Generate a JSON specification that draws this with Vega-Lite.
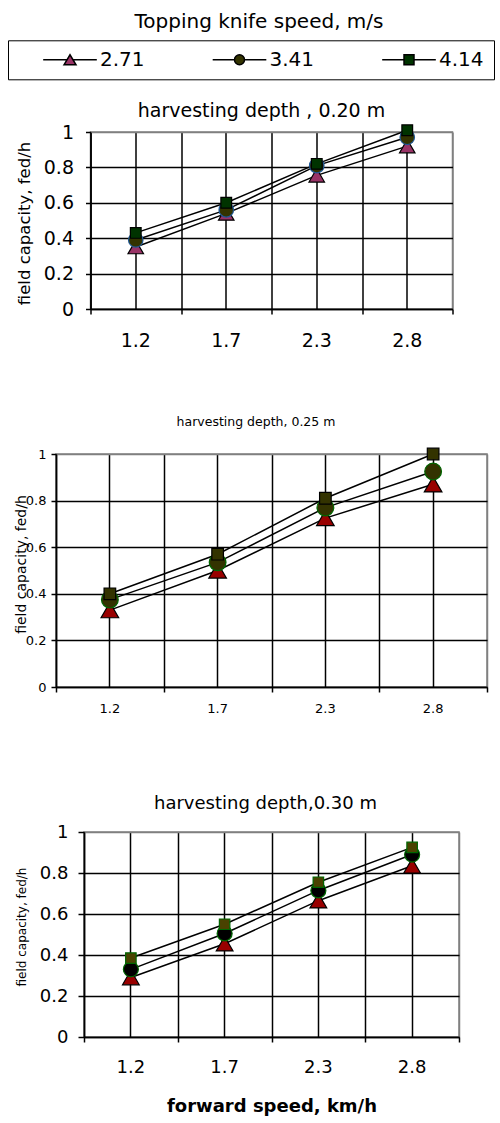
{
  "$schema": "https://vega.github.io/schema/vega-lite/v6.json",
  "padding": {"left": 7, "top": 11, "right": 0, "bottom": 0},
  "config": {
    "font": "DejaVu Sans",
    "view": {"stroke": "#808080", "strokeWidth": 1.5},
    "axis": {"domainColor": "black", "domainWidth": 1.5, "tickColor": "black", "tickWidth": 1.5, "gridColor": "black", "gridWidth": 1.5, "gridOpacity": 1, "labelColor": "black", "titleColor": "black", "labelFont": "DejaVu Sans", "titleFont": "DejaVu Sans", "titleFontWeight": "normal", "labelOverlap": false},
    "title": {"color": "black", "fontWeight": "normal", "font": "DejaVu Sans"},
    "legend": {"labelFont": "DejaVu Sans", "titleFont": "DejaVu Sans"}
  },
  "title": {"text": "Topping knife  speed, m/s", "fontSize": 20, "offset": -7.7, "dx": 8, "anchor": "middle", "baseline": "alphabetic"},
  "datasets": {
    "d20": [
      {"speed": "1.2", "series": "2.71", "fc": 0.35},
      {"speed": "1.2", "series": "3.41", "fc": 0.39},
      {"speed": "1.2", "series": "4.14", "fc": 0.43},
      {"speed": "1.7", "series": "2.71", "fc": 0.54},
      {"speed": "1.7", "series": "3.41", "fc": 0.56},
      {"speed": "1.7", "series": "4.14", "fc": 0.60},
      {"speed": "2.3", "series": "2.71", "fc": 0.755},
      {"speed": "2.3", "series": "3.41", "fc": 0.81},
      {"speed": "2.3", "series": "4.14", "fc": 0.82},
      {"speed": "2.8", "series": "2.71", "fc": 0.92},
      {"speed": "2.8", "series": "3.41", "fc": 0.97},
      {"speed": "2.8", "series": "4.14", "fc": 1.01}
    ],
    "d25": [
      {"speed": "1.2", "series": "2.71", "fc": 0.33},
      {"speed": "1.2", "series": "3.41", "fc": 0.375},
      {"speed": "1.2", "series": "4.14", "fc": 0.40},
      {"speed": "1.7", "series": "2.71", "fc": 0.50},
      {"speed": "1.7", "series": "3.41", "fc": 0.535},
      {"speed": "1.7", "series": "4.14", "fc": 0.57},
      {"speed": "2.3", "series": "2.71", "fc": 0.725},
      {"speed": "2.3", "series": "3.41", "fc": 0.77},
      {"speed": "2.3", "series": "4.14", "fc": 0.81},
      {"speed": "2.8", "series": "2.71", "fc": 0.87},
      {"speed": "2.8", "series": "3.41", "fc": 0.925},
      {"speed": "2.8", "series": "4.14", "fc": 1.0}
    ],
    "d30": [
      {"speed": "1.2", "series": "2.71", "fc": 0.29},
      {"speed": "1.2", "series": "3.41", "fc": 0.33},
      {"speed": "1.2", "series": "4.14", "fc": 0.385},
      {"speed": "1.7", "series": "2.71", "fc": 0.455},
      {"speed": "1.7", "series": "3.41", "fc": 0.505},
      {"speed": "1.7", "series": "4.14", "fc": 0.55},
      {"speed": "2.3", "series": "2.71", "fc": 0.665},
      {"speed": "2.3", "series": "3.41", "fc": 0.715},
      {"speed": "2.3", "series": "4.14", "fc": 0.755},
      {"speed": "2.8", "series": "2.71", "fc": 0.835},
      {"speed": "2.8", "series": "3.41", "fc": 0.89},
      {"speed": "2.8", "series": "4.14", "fc": 0.925}
    ]
  },
  "spacing": 145,
  "bounds": "flush",
  "center": true,
  "vconcat": [
    {
      "width": 362, "height": 177,
      "data": {"name": "d20"},
      "title": {"text": "harvesting depth , 0.20 m", "fontSize": 19, "frame": "group", "dx": -10, "offset": -14, "baseline": "alphabetic"},
      "layer": [
        {
          "mark": {"type": "line", "color": "black", "strokeWidth": 1.5},
          "encoding": {
            "x": {"field": "speed", "type": "ordinal", "scale": {"type": "band", "paddingInner": 0, "paddingOuter": 0},
              "axis": {"orient": "bottom", "title": null, "labelFontSize": 19, "labelPadding": 22, "labelAngle": 0, "ticks": false, "tickSize": 0, "grid": true, "bandPosition": 0.5, "domain": true}},
            "y": {"field": "fc", "type": "quantitative", "scale": {"domain": [0, 1], "nice": false},
              "axis": {"values": [0, 0.2, 0.4, 0.6, 0.8, 1], "tickCount": 10, "format": "~g", "labelOverlap": false, "labelFontSize": 19, "labelPadding": 12, "tickSize": 5, "title": "field capacity, fed/h", "titleFontSize": 16.5, "titleX": -58, "titleY": 91, "titleAngle": 270, "titleBaseline": "bottom", "gridColor": {"condition": {"test": "datum.value === 1", "value": "#808080"}, "value": "black"}}},
            "detail": {"field": "series"}
          }
        },
        {
          "transform": [{"filter": "datum.series === '2.71'"}],
          "mark": {"type": "point", "shape": "triangle-up", "filled": true, "fill": "#993366", "stroke": "black", "strokeWidth": 1.2, "size": 240, "opacity": 1},
          "encoding": {
            "x": {"field": "speed", "type": "ordinal",
              "axis": {"orient": "bottom", "title": null, "labels": false, "domain": false, "ticks": true, "tickSize": 5, "grid": true, "tickBand": "extent", "gridColor": {"condition": {"test": "datum.value === '2.8'", "value": "#808080"}, "value": "black"}}},
            "y": {"field": "fc", "type": "quantitative"}
          }
        },
        {
          "transform": [{"filter": "datum.series === '3.41'"}],
          "mark": {"type": "point", "shape": "circle", "filled": true, "fill": "#333300", "stroke": "#1f5896", "strokeWidth": 1.2, "size": 210, "opacity": 1},
          "encoding": {
            "x": {"field": "speed", "type": "ordinal", "axis": null},
            "y": {"field": "fc", "type": "quantitative"}
          }
        },
        {
          "transform": [{"filter": "datum.series === '4.14'"}],
          "mark": {"type": "point", "shape": "square", "filled": true, "fill": "#003300", "stroke": "black", "strokeWidth": 1.2, "size": 115, "opacity": 1},
          "encoding": {
            "x": {"field": "speed", "type": "ordinal", "axis": null},
            "y": {"field": "fc", "type": "quantitative"}
          }
        },
        {
          "mark": {"type": "point", "filled": true, "opacity": 0, "size": 342, "strokeWidth": 1.5},
          "encoding": {
            "x": {"field": "speed", "type": "ordinal", "axis": null},
            "y": {"field": "fc", "type": "quantitative"},
            "shape": {"field": "series", "type": "nominal", "scale": {"domain": ["2.71", "3.41", "4.14"], "range": [
              "M-2.9,0H-0.33M0.33,0H2.9M-0.65,0.54L0,-0.54L0.65,0.54Z",
              "M-2.9,0H-0.54M0.54,0H2.9M-0.54,0A0.54,0.54,0,1,0,0.54,0A0.54,0.54,0,1,0,-0.54,0Z",
              "M-2.9,0H-0.54M0.54,0H2.9M-0.54,-0.54H0.54V0.54H-0.54Z"]},
              "legend": {
                "orient": "none", "legendX": -48, "legendY": -91.7, "direction": "horizontal",
                "title": " ", "titleOrient": "left", "titleFontSize": 1, "titlePadding": 42.5,
                "padding": 9.5, "strokeColor": "black", "fillColor": "white",
                "labelFontSize": 20, "labelOffset": 20, "columnPadding": 64.5, "symbolSize": 342, "labelColor": "black",
                "symbolOpacity": 1, "symbolStrokeColor": "black", "symbolStrokeWidth": 1.5
              }},
            "fill": {"field": "series", "type": "nominal", "scale": {"domain": ["2.71", "3.41", "4.14"], "range": ["#993366", "#333300", "#003300"]}},
            "stroke": {"field": "series", "type": "nominal", "scale": {"domain": ["2.71", "3.41", "4.14"], "range": ["#000000", "#000000", "#000000"]}}
          }
        }
      ],
      "resolve": {"axis": {"x": "independent"}}
    },
    {
      "width": 431, "height": 233,
      "data": {"name": "d25"},
      "title": {"text": "harvesting depth, 0.25 m", "fontSize": 12.5, "frame": "group", "dx": -15.5, "offset": 7.3, "baseline": "alphabetic"},
      "layer": [
        {
          "mark": {"type": "line", "color": "black", "strokeWidth": 1.5},
          "encoding": {
            "x": {"field": "speed", "type": "ordinal", "scale": {"type": "band", "paddingInner": 0, "paddingOuter": 0},
              "axis": {"orient": "bottom", "title": null, "labelFontSize": 13, "labelPadding": 15, "labelAngle": 0, "ticks": false, "tickSize": 0, "grid": true, "bandPosition": 0.5, "domain": true}},
            "y": {"field": "fc", "type": "quantitative", "scale": {"domain": [0, 1], "nice": false},
              "axis": {"values": [0, 0.2, 0.4, 0.6, 0.8, 1], "tickCount": 10, "format": "~g", "labelOverlap": false, "labelFontSize": 13, "labelPadding": 5, "tickSize": 5, "title": "field capacity, fed/h", "titleFontSize": 14, "titleX": -28, "titleY": 110, "titleAngle": 270, "titleBaseline": "bottom", "gridColor": {"condition": {"test": "datum.value === 1", "value": "#808080"}, "value": "black"}}},
            "detail": {"field": "series"}
          }
        },
        {
          "transform": [{"filter": "datum.series === '2.71'"}],
          "mark": {"type": "point", "shape": "triangle-up", "filled": true, "fill": "#990000", "stroke": "black", "strokeWidth": 1.2, "size": 310, "opacity": 1},
          "encoding": {
            "x": {"field": "speed", "type": "ordinal",
              "axis": {"orient": "bottom", "title": null, "labels": false, "domain": false, "ticks": true, "tickSize": 5, "grid": true, "tickBand": "extent", "gridColor": {"condition": {"test": "datum.value === '2.8'", "value": "#808080"}, "value": "black"}}},
            "y": {"field": "fc", "type": "quantitative"}
          }
        },
        {
          "transform": [{"filter": "datum.series === '3.41'"}],
          "mark": {"type": "point", "shape": "circle", "filled": true, "fill": "#333300", "stroke": "#006600", "strokeWidth": 1.2, "size": 280, "opacity": 1},
          "encoding": {
            "x": {"field": "speed", "type": "ordinal", "axis": null},
            "y": {"field": "fc", "type": "quantitative"}
          }
        },
        {
          "transform": [{"filter": "datum.series === '4.14'"}],
          "mark": {"type": "point", "shape": "square", "filled": true, "fill": "#333300", "stroke": "black", "strokeWidth": 1.2, "size": 135, "opacity": 1},
          "encoding": {
            "x": {"field": "speed", "type": "ordinal", "axis": null},
            "y": {"field": "fc", "type": "quantitative"}
          }
        }
      ],
      "resolve": {"axis": {"x": "independent"}}
    },
    {
      "width": 375, "height": 205,
      "data": {"name": "d30"},
      "title": {"text": "harvesting depth,0.30 m", "fontSize": 18, "frame": "group", "dx": -6, "offset": -4, "baseline": "alphabetic"},
      "layer": [
        {
          "mark": {"type": "line", "color": "black", "strokeWidth": 1.5},
          "encoding": {
            "x": {"field": "speed", "type": "ordinal", "scale": {"type": "band", "paddingInner": 0, "paddingOuter": 0},
              "axis": {"orient": "bottom", "title": "forward speed, km/h", "titleFontSize": 18, "titleFontWeight": "bold", "titlePadding": 21, "labelFontSize": 18, "labelPadding": 21, "labelAngle": 0, "ticks": false, "tickSize": 0, "grid": true, "bandPosition": 0.5, "domain": true}},
            "y": {"field": "fc", "type": "quantitative", "scale": {"domain": [0, 1], "nice": false},
              "axis": {"values": [0, 0.2, 0.4, 0.6, 0.8, 1], "tickCount": 10, "format": "~g", "labelOverlap": false, "labelFontSize": 18, "labelPadding": 10, "tickSize": 6, "title": "field capacity, fed/h", "titleFontSize": 12, "titleX": -56, "titleY": 94.5, "titleAngle": 270, "titleBaseline": "bottom", "gridColor": {"condition": {"test": "datum.value === 1", "value": "#808080"}, "value": "black"}}},
            "detail": {"field": "series"}
          }
        },
        {
          "transform": [{"filter": "datum.series === '2.71'"}],
          "mark": {"type": "point", "shape": "triangle-up", "filled": true, "fill": "#990000", "stroke": "black", "strokeWidth": 1.2, "size": 280, "opacity": 1},
          "encoding": {
            "x": {"field": "speed", "type": "ordinal",
              "axis": {"orient": "bottom", "title": null, "labels": false, "domain": false, "ticks": true, "tickSize": 5, "grid": true, "tickBand": "extent", "gridColor": {"condition": {"test": "datum.value === '2.8'", "value": "#808080"}, "value": "black"}}},
            "y": {"field": "fc", "type": "quantitative"}
          }
        },
        {
          "transform": [{"filter": "datum.series === '3.41'"}],
          "mark": {"type": "point", "shape": "circle", "filled": true, "fill": "#000000", "stroke": "#006600", "strokeWidth": 1.2, "size": 225, "opacity": 1},
          "encoding": {
            "x": {"field": "speed", "type": "ordinal", "axis": null},
            "y": {"field": "fc", "type": "quantitative"}
          }
        },
        {
          "transform": [{"filter": "datum.series === '4.14'"}],
          "mark": {"type": "point", "shape": "square", "filled": true, "fill": "#4a4200", "stroke": "#006600", "strokeWidth": 1.2, "size": 110, "opacity": 1},
          "encoding": {
            "x": {"field": "speed", "type": "ordinal", "axis": null},
            "y": {"field": "fc", "type": "quantitative"}
          }
        }
      ],
      "resolve": {"axis": {"x": "independent"}}
    }
  ]
}
